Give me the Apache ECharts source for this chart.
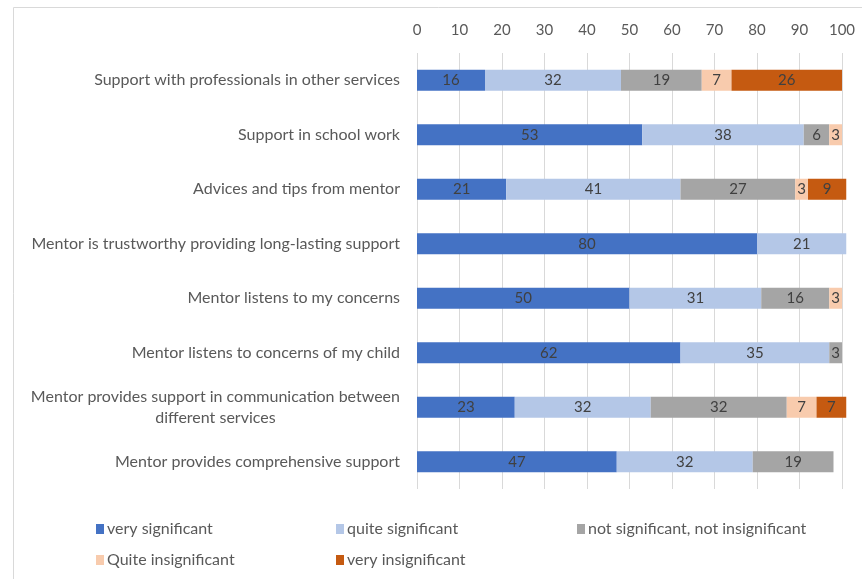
<!doctype html>
<html lang="en">
<head>
    <meta charset="UTF-8">
    <title>Mentor support</title>
    <style>
        body { margin: 0; background: #fff; }
    </style>
</head>
<body>
    <script src="https://cdn.jsdelivr.net/npm/echarts@6/dist/echarts.min.js"></script>
    <div id="bar" style="width: 862px; height: 579px"></div>

    <script>
        var categories = [
            'Support with professionals in other services',
            'Support in school work',
            'Advices and tips from mentor',
            'Mentor is trustworthy providing long-lasting support',
            'Mentor listens to my concerns',
            'Mentor listens to concerns of my child',
            'Mentor provides support in communication between\ndifferent services',
            'Mentor provides comprehensive support'
        ];
        var seriesNames = ['very significant', 'quite significant', 'not significant, not insignificant',
            'Quite insignificant', 'very insignificant'];
        var verySignificant = [16, 53, 21, 80, 50, 62, 23, 47];
        var quiteSignificant = [32, 38, 41, 21, 31, 35, 32, 32];
        var notSignificant = [19, 6, 27, null, 16, 3, 32, 19];
        var quiteInsignificant = [7, 3, 3, null, 3, null, 7, null];
        var veryInsignificant = [26, null, 9, null, null, null, 7, null];
        var xTicks = [0, 10, 20, 30, 40, 50, 60, 70, 80, 90, 100];

        var colors = ['#4472C4', '#B4C7E7', '#A5A5A5', '#F8CBAD', '#C55A11'];
        var values = [verySignificant, quiteSignificant, notSignificant, quiteInsignificant, veryInsignificant];
        var font = 'Lato';

        // two-line label: centre the lines, keep the block right-aligned
        var ctx = document.createElement('canvas').getContext('2d');
        ctx.font = '16px "' + font + '"';
        var catData = categories.map(function (c) {
            if (c.indexOf('\n') < 0) return c;
            var w = Math.max.apply(null, c.split('\n').map(function (l) { return ctx.measureText(l).width; }));
            return { value: c, textStyle: { align: 'center', padding: [0, w, 0, 0], lineHeight: 21 } };
        });

        var series = values.map(function (v, i) {
            return {
                name: seriesNames[i],
                type: 'bar',
                stack: 'all',
                barWidth: 21,
                clip: false,
                data: v,
                itemStyle: { color: colors[i] },
                label: {
                    show: true,
                    color: '#404040',
                    fontSize: 15,
                    fontFamily: font
                }
            };
        });

        var legendPos = [[91, 516], [331, 516], [572, 516], [91, 547], [331, 547]];
        var legends = seriesNames.map(function (n, i) {
            return {
                data: [n],
                left: legendPos[i][0],
                top: legendPos[i][1],
                itemWidth: 8,
                itemHeight: 10,
                itemGap: 4,
                icon: 'rect',
                selectedMode: false,
                textStyle: { color: '#595959', fontSize: 16, fontFamily: font, padding: [0, 0, 0, -2] }
            };
        });

        var option = {
            animation: false,
            textStyle: { fontFamily: font },
            color: colors,
            grid: { left: 417, right: 20, top: 53, bottom: 90 },
            legend: legends,
            xAxis: {
                type: 'value',
                position: 'top',
                min: xTicks[0],
                max: xTicks[xTicks.length - 1],
                interval: 10,
                axisLine: { show: false },
                axisTick: { show: false },
                axisLabel: { color: '#595959', fontSize: 15, margin: 15 },
                splitLine: { lineStyle: { color: '#D9D9D9' } }
            },
            yAxis: {
                type: 'category',
                inverse: true,
                data: catData,
                axisLine: { show: false },
                axisTick: { show: false },
                axisLabel: { color: '#595959', fontSize: 16, margin: 17 }
            },
            graphic: [{
                type: 'rect',
                shape: { x: 13.5, y: 7.5, width: 900, height: 700 },
                style: { fill: 'none', stroke: '#D9D9D9', lineWidth: 1 },
                silent: true
            }],
            series: series
        };

        var chart = echarts.init(document.getElementById('bar'));
        chart.setOption(option);
    </script>
</body>
</html>
